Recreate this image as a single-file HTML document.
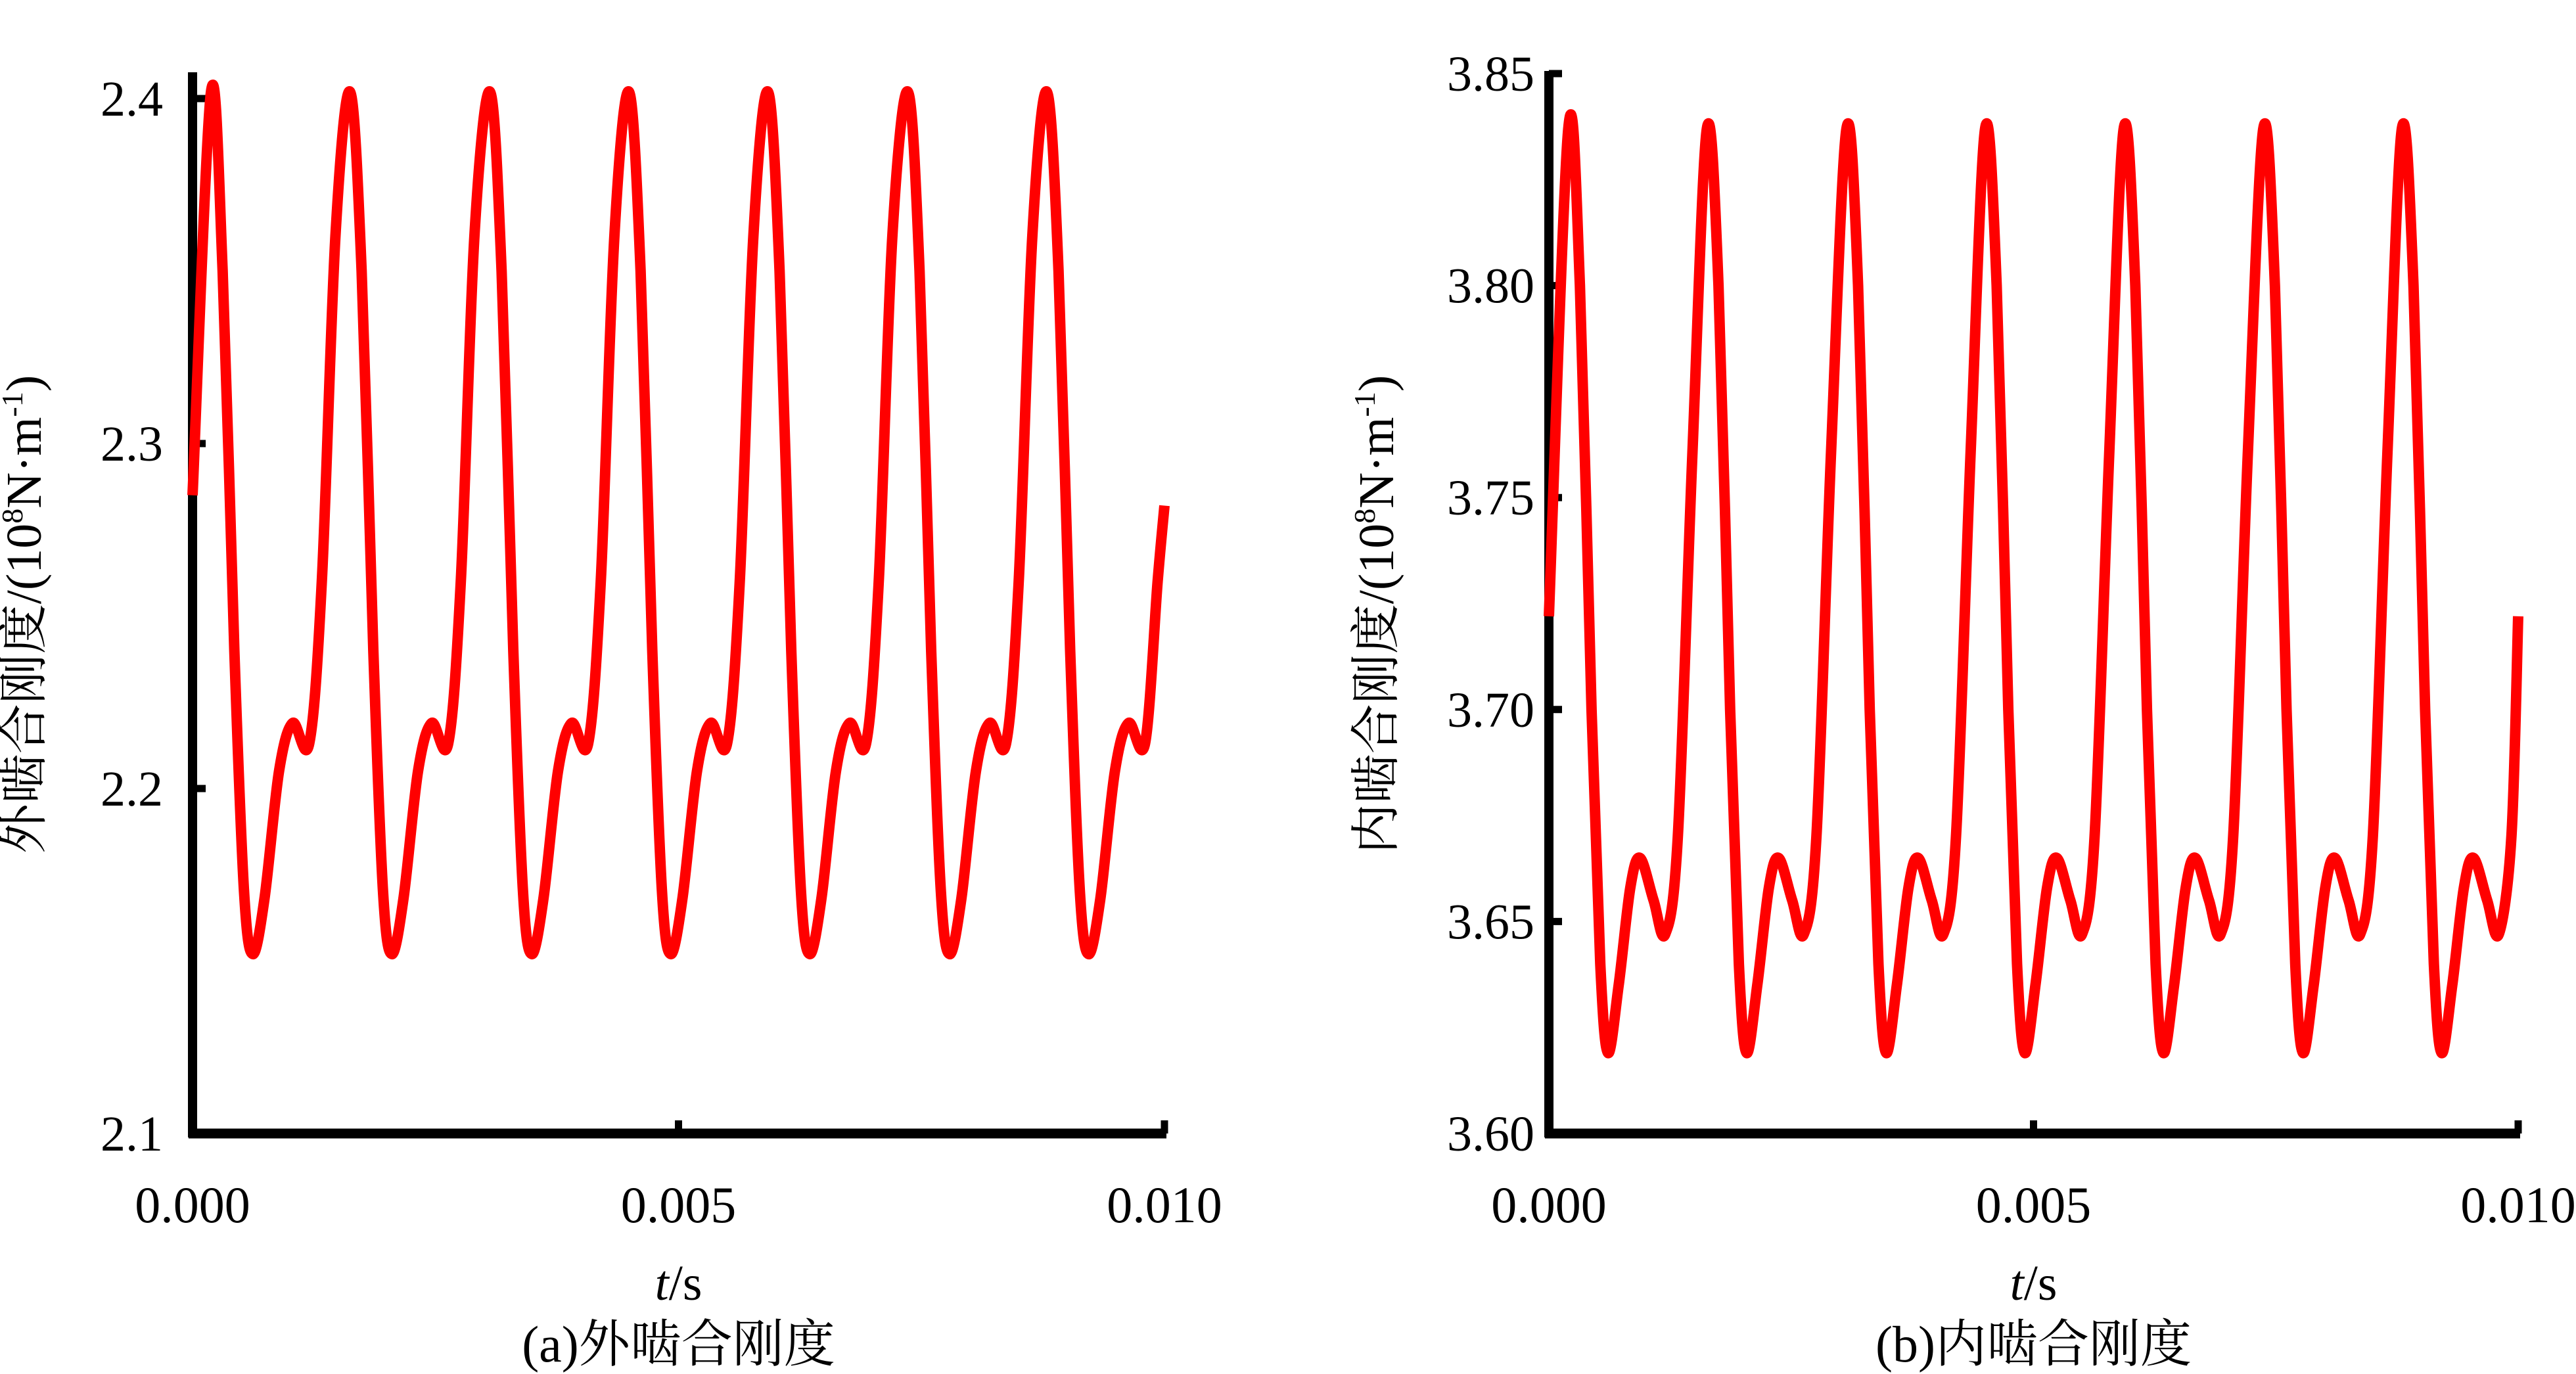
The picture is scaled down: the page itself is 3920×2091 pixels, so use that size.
<!DOCTYPE html>
<html><head><meta charset="utf-8"><style>
html,body{margin:0;padding:0;background:#fff;}
svg{display:block;}
text{font-family:"Liberation Serif","Noto Serif CJK SC","Noto Sans CJK SC",serif;fill:#000;}
</style></head><body>
<svg id="fig" width="3920" height="2091" viewBox="0 0 3920 2091" xmlns="http://www.w3.org/2000/svg"></svg>
<script>
// ---- Chart (a) data ----
const xTicksA = [0, 0.005, 0.010];
const xTickLabelsA = ["0.000", "0.005", "0.010"];
const yTicksA = [2.1, 2.2, 2.3, 2.4];
const yTickLabelsA = ["2.1", "2.2", "2.3", "2.4"];
const peakTimesA = [0.00019, 0.00162, 0.00306, 0.00449, 0.00592, 0.00736, 0.00879];
const cycleOffsetsA = [0, 0.00012, 0.00024, 0.00034, 0.00043, 0.00055, 0.00070, 0.00084, 0.00101, 0.00114, 0.00128];
const cycleValuesA = [2.402, 2.35, 2.24, 2.17, 2.152, 2.168, 2.205, 2.219, 2.213, 2.26, 2.36];
const startA = [0, 2.285];
const endA = [0.0100, 2.282];
// ---- Chart (b) data ----
const xTicksB = [0, 0.005, 0.010];
const xTickLabelsB = ["0.000", "0.005", "0.010"];
const yTicksB = [3.60, 3.65, 3.70, 3.75, 3.80, 3.85];
const yTickLabelsB = ["3.60", "3.65", "3.70", "3.75", "3.80", "3.85"];
const peakTimesB = [0.00020, 0.00163, 0.00307, 0.00450, 0.00593, 0.00737, 0.00880];
const cycleOffsetsB = [0, 0.00012, 0.00024, 0.00033, 0.00041, 0.00052, 0.00064, 0.00074, 0.00088, 0.00100, 0.00113, 0.00128];
const cycleValuesB = [3.837, 3.80, 3.70, 3.64, 3.619, 3.635, 3.658, 3.665, 3.655, 3.647, 3.67, 3.76];
const startB = [0, 3.722];
const endB = [0.0100, 3.722];

const NS = "http://www.w3.org/2000/svg";
const svg = document.getElementById("fig");
function mk(tag, attrs, parent){const e=document.createElementNS(NS,tag);for(const k in attrs)e.setAttribute(k,attrs[k]);(parent||svg).appendChild(e);return e;}

function buildSeries(start, peaks, offs, vals, end){
  const pts=[start];
  for(const tp of peaks){for(let i=0;i<offs.length;i++){const t=tp+offs[i];if(t<end[0]-0.00002)pts.push([t,vals[i]]);}}
  pts.push(end);
  return pts;
}
function smoothPath(p){
  let d="M"+p[0][0].toFixed(1)+","+p[0][1].toFixed(1);
  for(let i=0;i<p.length-1;i++){
    const p0=p[i-1]||p[i],p1=p[i],p2=p[i+1],p3=p[i+2]||p2;
    const c1=[p1[0]+(p2[0]-p0[0])/6,p1[1]+(p2[1]-p0[1])/6];
    const c2=[p2[0]-(p3[0]-p1[0])/6,p2[1]-(p3[1]-p1[1])/6];
    d+=" C"+c1[0].toFixed(1)+","+c1[1].toFixed(1)+" "+c2[0].toFixed(1)+","+c2[1].toFixed(1)+" "+p2[0].toFixed(1)+","+p2[1].toFixed(1);
  }
  return d;
}

function drawChart(cfg){
  const g=mk("g",{});
  
  
  const X=t=>cfg.x0+(t-cfg.xmin)/(cfg.xmax-cfg.xmin)*(cfg.x1-cfg.x0);
  const Y=v=>cfg.yb-(v-cfg.ymin)/(cfg.ymax-cfg.ymin)*(cfg.yb-cfg.ytv);
  const ya=mk("line",{x1:cfg.x0,y1:cfg.ytop,x2:cfg.x0,y2:cfg.yb+6,stroke:"#000","stroke-width":14},g);
  
  
  const xa=mk("line",{x1:cfg.x0-6,y1:cfg.yb,x2:cfg.x1+3,y2:cfg.yb,stroke:"#000","stroke-width":15},g);
  
  
  cfg.yt.forEach((v,i)=>{
    const y=Y(v);
    const tk=mk("line",{x1:cfg.x0,y1:y,x2:cfg.x0+20,y2:y,stroke:"#000","stroke-width":11},g);
    
    
    const tx=mk("text",{x:cfg.x0-cfg.lgap,y:y+26,"text-anchor":"end","font-size":76},g);
    tx.textContent=cfg.ytl[i];
    
    
  });
  cfg.xt.forEach((t,i)=>{
    const x=X(t);
    const tk=mk("line",{x1:x,y1:cfg.yb,x2:x,y2:cfg.yb-20,stroke:"#000","stroke-width":11},g);
    
    
    const tx=mk("text",{x:x,y:cfg.yb+135,"text-anchor":"middle","font-size":78},g);
    tx.textContent=cfg.xtl[i];
    
    
  });
  const pts=cfg.pts.map(p=>[X(p[0]),Y(p[1])]);
  const ln=mk("path",{d:smoothPath(pts),fill:"none",stroke:"#ff0000","stroke-width":16,"stroke-linejoin":"round","stroke-linecap":"butt"},g);
  
  
  const xt=mk("text",{x:(cfg.x0+cfg.x1)/2,y:1978,"text-anchor":"middle","font-size":76},g);
  xt.innerHTML='<tspan font-style="italic">t</tspan>/s';
  
  
  const cap=mk("text",{x:(cfg.x0+cfg.x1)/2,y:2072,"text-anchor":"middle","font-size":78},g);
  cap.textContent=cfg.caption;
  
  
  const yl=mk("text",{x:0,y:0,"text-anchor":"middle","font-size":76,transform:"translate("+cfg.ylx+",935) rotate(-90)"},g);
  yl.innerHTML=cfg.ylab+'/(10<tspan font-size="46" dy="-28">8</tspan><tspan dy="28">N·m</tspan><tspan font-size="46" dy="-28">-1</tspan><tspan dy="28">)</tspan>';
  
  
}

drawChart({name:"chart-outer-mesh-stiffness",x0:293,x1:1772,xmin:0,xmax:0.01,yb:1725,ytv:150,ytop:110,ymin:2.1,ymax:2.4,lgap:45,
  yt:yTicksA,ytl:yTickLabelsA,xt:xTicksA,xtl:xTickLabelsA,
  pts:buildSeries(startA,peakTimesA,cycleOffsetsA,cycleValuesA,endA),
  caption:"(a)外啮合刚度",ylab:"外啮合刚度",ylx:62});
drawChart({name:"chart-inner-mesh-stiffness",x0:2357,x1:3832,xmin:0,xmax:0.01,yb:1725,ytv:112,ytop:108,ymin:3.60,ymax:3.85,lgap:22,
  yt:yTicksB,ytl:yTickLabelsB,xt:xTicksB,xtl:xTickLabelsB,
  pts:buildSeries(startB,peakTimesB,cycleOffsetsB,cycleValuesB,endB),
  caption:"(b)内啮合刚度",ylab:"内啮合刚度",ylx:2120});
</script>
</body></html>
